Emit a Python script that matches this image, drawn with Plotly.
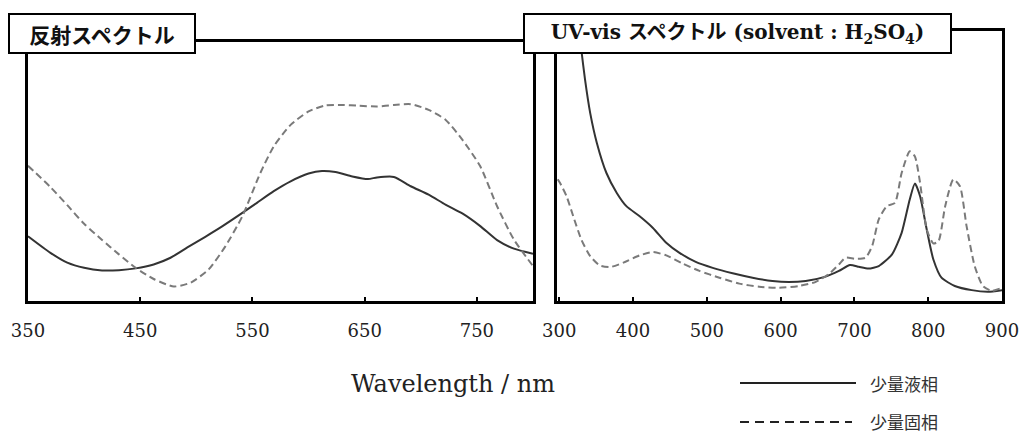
import plotly.graph_objects as go

# ---- Data ----
# Reflection spectra (left panel), arbitrary units
refl_wl_liquid = [350, 370, 385, 400, 416, 431, 446, 462, 477, 492, 508, 523, 541, 554, 569, 584,
                  600, 612, 624, 639, 653, 661, 676, 691, 707, 722, 737, 753, 768, 783, 800]
refl_liquid = [0.250, 0.186, 0.148, 0.128, 0.118, 0.119, 0.126, 0.141, 0.167, 0.207, 0.248, 0.288,
               0.340, 0.379, 0.424, 0.462, 0.492, 0.502, 0.498, 0.481, 0.471, 0.477, 0.479, 0.443,
               0.411, 0.372, 0.338, 0.289, 0.235, 0.202, 0.182]
refl_wl_solid = [350, 370, 385, 400, 416, 431, 446, 462, 480, 495, 511, 526, 541, 557, 569, 584,
                 600, 615, 630, 645, 661, 676, 691, 707, 722, 737, 753, 768, 783, 800]
refl_solid = [0.522, 0.440, 0.370, 0.298, 0.236, 0.180, 0.128, 0.085, 0.056, 0.071, 0.122, 0.212,
              0.327, 0.494, 0.597, 0.680, 0.732, 0.755, 0.757, 0.754, 0.751, 0.757, 0.760, 0.738,
              0.700, 0.623, 0.520, 0.366, 0.237, 0.135]

# UV-vis spectra in H2SO4 (right panel), arbitrary units
uv_wl_liquid = [322, 327, 330, 335, 342, 351, 364, 378, 391, 409, 427, 445, 463, 485, 508, 535,
                562, 589, 611, 634, 661, 679, 694, 706, 719, 733, 751, 764, 775, 782, 789, 798,
                807, 818, 836, 859, 881, 900]
uv_liquid = [1.20, 1.042, 0.969, 0.854, 0.725, 0.610, 0.494, 0.417, 0.366, 0.327, 0.282, 0.225,
             0.186, 0.151, 0.128, 0.107, 0.090, 0.077, 0.073, 0.077, 0.094, 0.116, 0.139, 0.132,
             0.125, 0.135, 0.180, 0.263, 0.392, 0.453, 0.404, 0.276, 0.160, 0.090, 0.058, 0.042,
             0.036, 0.042]
uv_wl_solid = [298, 301, 310, 319, 330, 342, 355, 369, 387, 409, 427, 445, 467, 490, 517, 544,
               571, 598, 625, 647, 665, 679, 688, 701, 715, 724, 733, 744, 755, 764, 775, 782,
               789, 798, 807, 814, 823, 834, 843, 852, 863, 874, 886, 900]
uv_solid = [0.470, 0.456, 0.404, 0.327, 0.237, 0.173, 0.137, 0.131, 0.148, 0.176, 0.189, 0.176,
            0.145, 0.116, 0.090, 0.067, 0.055, 0.051, 0.058, 0.073, 0.103, 0.141, 0.167, 0.163,
            0.167, 0.212, 0.315, 0.366, 0.379, 0.494, 0.578, 0.558, 0.456, 0.276, 0.222, 0.231,
            0.366, 0.469, 0.443, 0.289, 0.135, 0.058, 0.039, 0.051]

left_ticks = [350, 450, 550, 650, 750]
right_ticks = [300, 400, 500, 600, 700, 800, 900]
legend_labels = ["少量液相", "少量固相"]
title_left = "<b>反射スペクトル</b>"
title_right = "<b>UV-vis スペクトル (solvent : H<sub>2</sub>SO<sub>4</sub>)</b>"
x_title = "Wavelength / nm"

# ---- Styles ----
W, H = 1024, 436
SOLID_COLOR = "#333333"
DASH_COLOR = "#7a7a7a"
SERIF = "DejaVu Serif, Liberation Serif, serif"
JP = "Noto Sans CJK JP, sans-serif"


def px_x(p):
    return p / W


def px_y(p):
    return 1 - p / H


fig = go.Figure()

line_solid = dict(color=SOLID_COLOR, width=2, shape="spline", smoothing=0.6)
line_dash = dict(color=DASH_COLOR, width=2, dash="7px,4px", shape="spline", smoothing=0.6)

fig.add_trace(go.Scatter(x=refl_wl_liquid, y=refl_liquid, mode="lines", line=line_solid,
                         name=legend_labels[0], xaxis="x", yaxis="y", showlegend=False))
fig.add_trace(go.Scatter(x=refl_wl_solid, y=refl_solid, mode="lines", line=line_dash,
                         name=legend_labels[1], xaxis="x", yaxis="y", showlegend=False))
fig.add_trace(go.Scatter(x=uv_wl_liquid, y=uv_liquid, mode="lines", line=line_solid,
                         name=legend_labels[0], xaxis="x2", yaxis="y2", showlegend=False))
fig.add_trace(go.Scatter(x=uv_wl_solid, y=uv_solid, mode="lines", line=line_dash,
                         name=legend_labels[1], xaxis="x2", yaxis="y2", showlegend=False))

axis_common = dict(showline=True, linecolor="black", linewidth=2.5, mirror=True,
                   showgrid=False, zeroline=False, automargin=False)
xaxis_common = dict(axis_common, ticks="inside", ticklen=4, tickwidth=2, tickcolor="black",
                    tickfont=dict(family=SERIF, size=18, color="#222"), ticklabelstandoff=12)

fig.update_layout(
    width=W, height=H,
    margin=dict(l=0, r=0, t=0, b=0, autoexpand=False),
    paper_bgcolor="white", plot_bgcolor="white",
    showlegend=False,
    xaxis=dict(xaxis_common, domain=[px_x(28), px_x(533)], range=[350, 800],
               tickvals=left_ticks, ticktext=[str(t) for t in left_ticks], anchor="y"),
    yaxis=dict(axis_common, domain=[px_y(301), px_y(42)], range=[0, 1.0],
               showticklabels=False, ticks="", anchor="x"),
    xaxis2=dict(xaxis_common, domain=[px_x(557), px_x(1002)], range=[297, 900],
                tickvals=right_ticks, ticktext=[str(t) for t in right_ticks], anchor="y2"),
    yaxis2=dict(axis_common, domain=[px_y(301), px_y(31)], range=[0, 1.042],
                showticklabels=False, ticks="", anchor="x2"),
)

# Panel title boxes
fig.add_annotation(xref="paper", yref="paper", x=px_x(8), y=px_y(13), xanchor="left", yanchor="top",
                   text=title_left, showarrow=False, width=184, height=37, align="center",
                   font=dict(family=JP, size=21, color="#111"),
                   bgcolor="white", bordercolor="black", borderwidth=2, borderpad=0)
fig.add_annotation(xref="paper", yref="paper", x=px_x(523), y=px_y(13), xanchor="left", yanchor="top",
                   text=title_right, showarrow=False, width=425, height=37, align="center",
                   font=dict(family="DejaVu Serif, Noto Sans CJK JP", size=20, color="#111"),
                   bgcolor="white", bordercolor="black", borderwidth=2, borderpad=0)

# X-axis title
fig.add_annotation(xref="paper", yref="paper", x=px_x(453), y=px_y(384), xanchor="center", yanchor="middle",
                   text=x_title, showarrow=False, font=dict(family=SERIF, size=24, color="#222"))

# Legend (line samples + labels)
fig.add_shape(type="line", xref="paper", yref="paper", x0=px_x(740), x1=px_x(856),
              y0=px_y(383), y1=px_y(383), line=dict(color="#222", width=2))
fig.add_shape(type="line", xref="paper", yref="paper", x0=px_x(740), x1=px_x(852),
              y0=px_y(422), y1=px_y(422), line=dict(color="#222", width=2, dash="9px,6px"))
fig.add_annotation(xref="paper", yref="paper", x=px_x(868), y=px_y(383), xanchor="left", yanchor="middle",
                   text=legend_labels[0], showarrow=False, font=dict(family=JP, size=17, color="#333"))
fig.add_annotation(xref="paper", yref="paper", x=px_x(868), y=px_y(421), xanchor="left", yanchor="middle",
                   text=legend_labels[1], showarrow=False, font=dict(family=JP, size=17, color="#333"))

fig.write_html("out.html")
